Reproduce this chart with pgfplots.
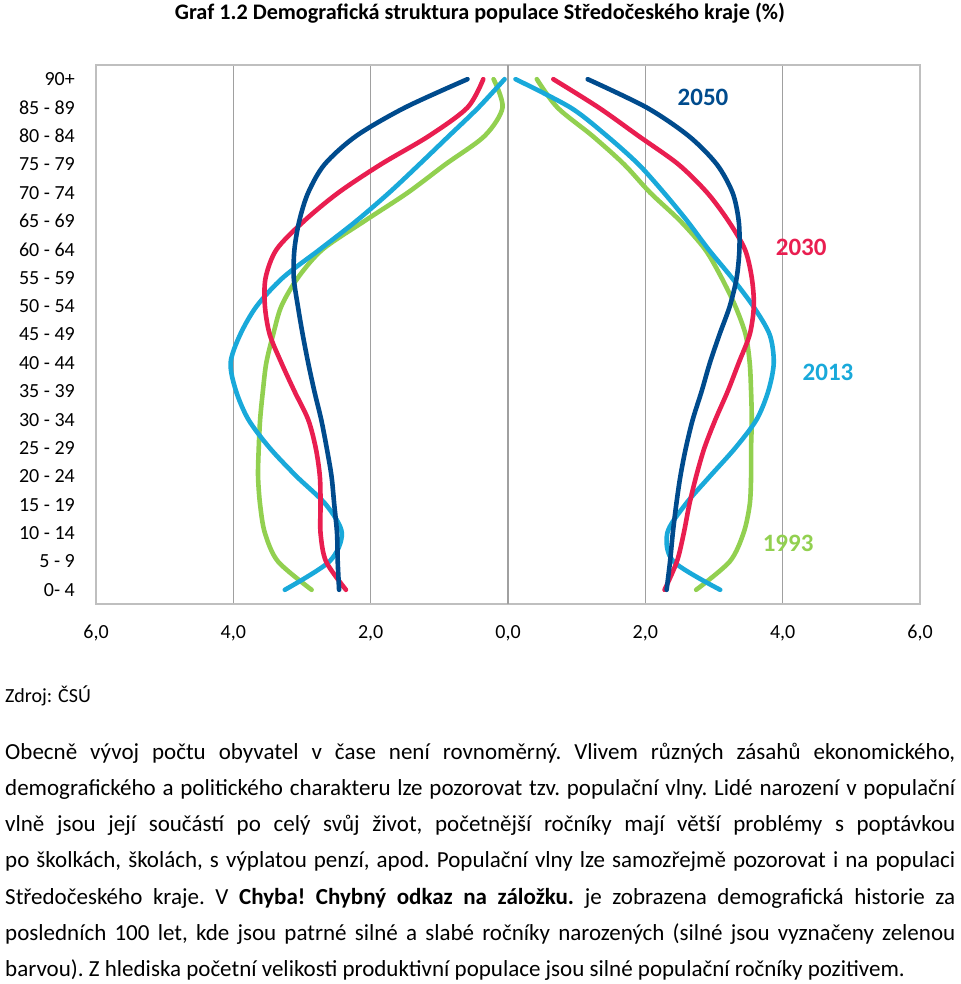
\documentclass[border=0pt]{standalone}
\usepackage{fontspec}
\setmainfont{Carlito}
\usepackage{pgfplots}
\usepackage{pgfplotstable}
\pgfplotsset{compat=1.18}
\definecolor{cA}{HTML}{004B8D}
\definecolor{cB}{HTML}{E91E50}
\definecolor{cC}{HTML}{19A9DA}
\definecolor{cD}{HTML}{92D050}
\definecolor{gridc}{HTML}{A0A0A0}
\definecolor{zeroc}{HTML}{A6A6A6}
\definecolor{borderc}{HTML}{BFBFBF}

\ExplSyntaxOn
\NewDocumentCommand \jline { m m }
  {
    \seq_set_split:Nnn \l_tmpa_seq { ~ } { #2 }
    \int_set:Nn \l_tmpa_int { \seq_count:N \l_tmpa_seq }
    \hbox_to_wd:nn { #1 }
      {
        \int_step_inline:nnnn { \l_tmpa_int } { -1 } { 1 }
          {
            \hbox_overlap_right:n
              {
                \hbox_to_wd:nn { #1 }
                  {
                    \seq_map_indexed_inline:Nn \l_tmpa_seq
                      {
                        \int_compare:nNnT { ####1 } > { 1 }
                          { \hskip \fontdimen2\font plus 1fil minus \fontdimen4\font }
                        \int_compare:nNnTF { ####1 } = { ##1 }
                          { ####2 }
                          { \phantom { ####2 } }
                      }
                  }
              }
          }
        \hfil
      }
  }
\NewDocumentCommand \nline { m m }
  {
    \seq_set_split:Nnn \l_tmpa_seq { ~ } { #2 }
    \int_set:Nn \l_tmpa_int { \seq_count:N \l_tmpa_seq }
    \hbox_to_wd:nn { #1 }
      {
        \int_step_inline:nnnn { \l_tmpa_int } { -1 } { 1 }
          {
            \hbox_overlap_right:n
              {
                \hbox:n
                  {
                    \seq_map_indexed_inline:Nn \l_tmpa_seq
                      {
                        \int_compare:nNnT { ####1 } > { 1 }
                          { \hskip \fontdimen2\font }
                        \int_compare:nNnTF { ####1 } = { ##1 }
                          { ####2 }
                          { \phantom { ####2 } }
                      }
                  }
              }
          }
        \hfil
      }
  }
\ExplSyntaxOff

\pgfplotstableread{
k  gm   gf   lm   lf   rm   rf   dm   df
0  2.86 2.74 3.25 3.09 2.36 2.28 2.46 2.31
1  3.35 3.23 2.60 2.41 2.65 2.46 2.48 2.36
2  3.54 3.43 2.42 2.32 2.73 2.56 2.49 2.40
3  3.61 3.52 2.65 2.58 2.73 2.64 2.53 2.45
4  3.64 3.54 3.08 2.94 2.74 2.74 2.57 2.51
5  3.63 3.54 3.47 3.31 2.80 2.86 2.64 2.59
6  3.61 3.55 3.78 3.62 2.91 3.02 2.72 2.69
7  3.57 3.54 3.96 3.79 3.11 3.20 2.82 2.82
8  3.52 3.52 4.04 3.87 3.30 3.36 2.91 2.94
9  3.42 3.46 3.90 3.81 3.47 3.52 2.99 3.08
10 3.30 3.31 3.66 3.57 3.54 3.58 3.06 3.23
11 3.06 3.11 3.28 3.26 3.53 3.55 3.12 3.33
12 2.70 2.87 2.74 2.92 3.37 3.45 3.11 3.37
13 2.09 2.51 2.21 2.61 2.97 3.21 3.04 3.36
14 1.46 2.07 1.73 2.27 2.47 2.90 2.91 3.27
15 0.91 1.69 1.29 1.90 1.85 2.48 2.67 3.04
16 0.34 1.23 0.86 1.44 1.15 1.90 2.21 2.63
17 0.08 0.72 0.43 0.91 0.59 1.32 1.50 2.02
18 0.21 0.42 0.05 0.11 0.36 0.66 0.59 1.16
}\pyr

\begin{document}
\begin{tikzpicture}
\useasboundingbox (0,0) rectangle (960pt,-984pt);
\node[anchor=base, inner sep=0pt, font=\bfseries\fontsize{22.2pt}{26pt}\selectfont] at (480pt,-20pt) {Graf 1.2 Demografická struktura populace Středočeského kraje (\%)};
\begin{axis}[
  at={(96pt,-65pt)}, anchor=north west,
  scale only axis, width=824pt, height=539pt,
  xmin=-6, xmax=6, ymin=-0.5, ymax=18.5,
  xtick={-6,-4,-2,0,2,4,6},
  xticklabels={{6,0},{4,0},{2,0},{0,0},{2,0},{4,0},{6,0}},
  ytick={0,...,18},
  yticklabels={{0- 4},{5 - 9},{10 - 14},{15 - 19},{20 - 24},{25 - 29},{30 - 34},{35 - 39},{40 - 44},{45 - 49},{50 - 54},{55 - 59},{60 - 64},{65 - 69},{70 - 74},{75 - 79},{80 - 84},{85 - 89},{90+}},
  major tick length=0pt,
  xmajorgrids,
  major grid style={gridc, line width=1.3pt},
  axis line style={borderc, line width=1.8pt},
  tick label style={font=\fontsize{20pt}{24pt}\selectfont, text=black},
  xticklabel style={anchor=north, inner sep=0pt, yshift=-21pt},
  yticklabel style={anchor=east, inner sep=0pt, xshift=-21pt},
  extra x ticks={0}, extra x tick labels={},
  extra x tick style={grid style={zeroc, line width=4pt}},
  every axis plot/.append style={smooth, line width=4.6pt, line cap=round, no markers},
  clip=false,
]
\addplot[cD] table[x expr=-\thisrow{gm}, y=k] {\pyr};
\addplot[cC] table[x expr=-\thisrow{lm}, y=k] {\pyr};
\addplot[cB] table[x expr=-\thisrow{rm}, y=k] {\pyr};
\addplot[cA] table[x expr=-\thisrow{dm}, y=k] {\pyr};
\addplot[cD] table[x=gf, y=k] {\pyr};
\addplot[cC] table[x=lf, y=k] {\pyr};
\addplot[cB] table[x=rf, y=k] {\pyr};
\addplot[cA] table[x=df, y=k] {\pyr};
\node[font=\bfseries\fontsize{25pt}{30pt}\selectfont, text=cA] at (axis cs:2.84,17.36) {2050};
\node[font=\bfseries\fontsize{25pt}{30pt}\selectfont, text=cB] at (axis cs:4.27,12.06) {2030};
\node[font=\bfseries\fontsize{25pt}{30pt}\selectfont, text=cC] at (axis cs:4.66,7.67) {2013};
\node[font=\bfseries\fontsize{25pt}{30pt}\selectfont, text=cD] at (axis cs:4.08,1.63) {1993};
\end{axis}
\node[anchor=base west, inner sep=0pt, font=\fontsize{20pt}{24pt}\selectfont] at (5pt,-702pt) {Zdroj: ČSÚ};
\node[anchor=base west, inner sep=0pt, font=\fontsize{23pt}{36.3pt}\selectfont] at (5pt,-759pt) {\vtop{\baselineskip=36.3pt
\jline{950pt}{Obecně vývoj počtu obyvatel v čase není rovnoměrný. Vlivem různých zásahů ekonomického,}
\jline{950pt}{demografického a politického charakteru lze pozorovat tzv. populační vlny. Lidé narození v populační}
\jline{950pt}{vlně jsou její součástí po celý svůj život, početnější ročníky mají větší problémy s poptávkou}
\jline{950pt}{po školkách, školách, s výplatou penzí, apod. Populační vlny lze samozřejmě pozorovat i na populaci}
\jline{950pt}{Středočeského kraje. V \textbf{Chyba!} \textbf{Chybný} \textbf{odkaz} \textbf{na} \textbf{záložku.} je zobrazena demografická historie za}
\jline{950pt}{posledních 100 let, kde jsou patrné silné a slabé ročníky narozených (silné jsou vyznačeny zelenou}
\nline{950pt}{barvou). Z hlediska početní velikosti produktivní populace jsou silné populační ročníky pozitivem.}
}};
\end{tikzpicture}
\end{document}
